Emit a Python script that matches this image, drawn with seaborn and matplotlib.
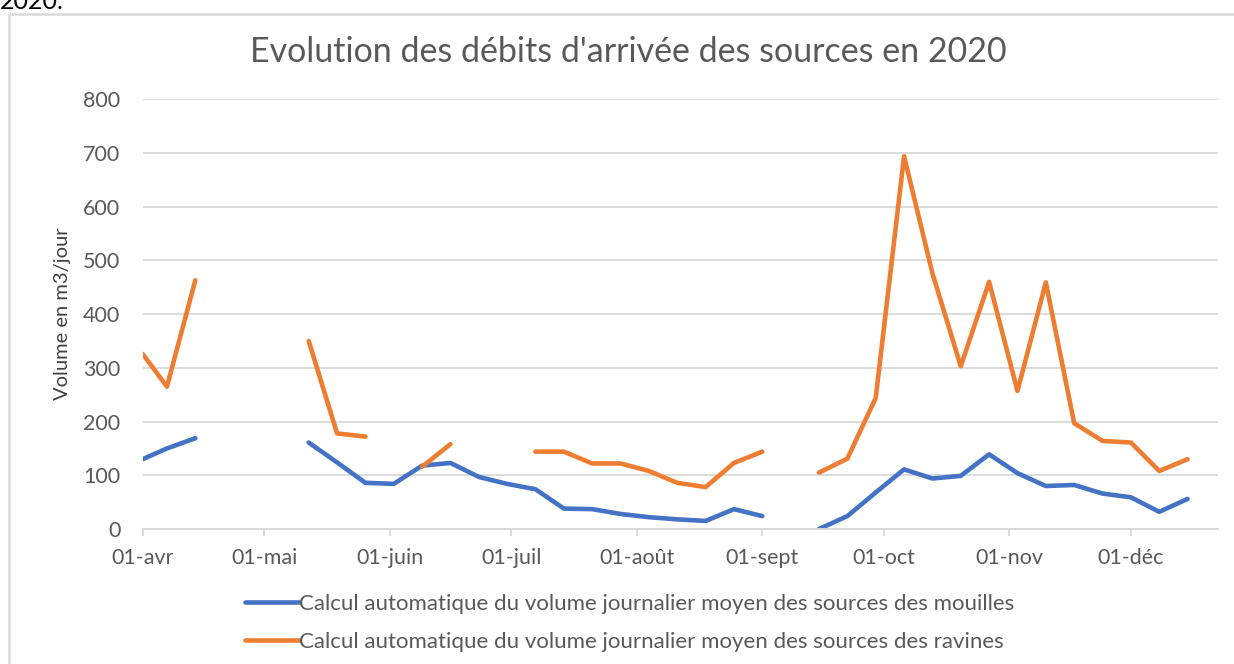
import numpy as np
import pandas as pd
import matplotlib
matplotlib.use("Agg")
import matplotlib.pyplot as plt
import seaborn as sns
from matplotlib.patches import Rectangle

# Weekly measurement dates (2020)
dates = pd.to_datetime([
    "2020-04-01", "2020-04-07", "2020-04-14", "2020-04-21", "2020-04-28",
    "2020-05-05", "2020-05-12", "2020-05-19", "2020-05-26", "2020-06-02",
    "2020-06-09", "2020-06-16", "2020-06-23", "2020-06-30", "2020-07-07",
    "2020-07-14", "2020-07-21", "2020-07-28", "2020-08-04", "2020-08-11",
    "2020-08-18", "2020-08-25", "2020-09-01", "2020-09-08", "2020-09-15",
    "2020-09-22", "2020-09-29", "2020-10-06", "2020-10-13", "2020-10-20",
    "2020-10-27", "2020-11-03", "2020-11-10", "2020-11-17", "2020-11-24",
    "2020-12-01", "2020-12-08", "2020-12-15",
])

nan = np.nan
mouilles = [130, 150, 169, nan, nan, nan, 161, 124, 86, 84,
            118, 123, 97, 84, 74, 38, 37, 28, 22, 18,
            15, 37, 24, nan, 0, 24, 68, 111, 94, 99,
            139, 104, 80, 82, 66, 59, 32, 56]
ravines = [326, 265, 463, nan, nan, nan, 350, 178, 172, nan,
           116, 158, nan, nan, 144, 144, 122, 122, 108, 86,
           78, 123, 144, nan, 105, 131, 244, 694, 476, 303,
           460, 257, 459, 197, 164, 161, 108, 130]

series_names = [
    "Calcul automatique du volume journalier moyen des sources des mouilles",
    "Calcul automatique du volume journalier moyen des sources des ravines",
]
series_colors = ["#4472C4", "#ED7D31"]

month_ticks = pd.to_datetime([
    "2020-04-01", "2020-05-01", "2020-06-01", "2020-07-01", "2020-08-01",
    "2020-09-01", "2020-10-01", "2020-11-01", "2020-12-01",
])
month_labels = ["01-avr", "01-mai", "01-juin", "01-juil", "01-août",
                "01-sept", "01-oct", "01-nov", "01-déc"]
y_ticks = [0, 100, 200, 300, 400, 500, 600, 700, 800]

# Long table; a new segment starts after every missing value so gaps stay open
frames = []
for name, vals in zip(series_names, [mouilles, ravines]):
    v = pd.Series(vals, dtype=float)
    seg = v.isna().cumsum()
    frames.append(pd.DataFrame({"date": dates, "value": v,
                                "serie": name, "segment": seg}))
df = pd.concat(frames, ignore_index=True).dropna(subset=["value"])
df["unit"] = df["serie"] + "_" + df["segment"].astype(str)

sns.set_theme(style="white")
plt.rcParams["font.family"] = ["Lato", "DejaVu Sans"]
text_grey = "#595959"
grid_grey = "#D9D9D9"
fs = 15.5

fig = plt.figure(figsize=(12.34, 6.64), dpi=100)
ax = fig.add_axes([0.1156, 0.2033, 0.8714, 0.6472])

sns.lineplot(data=df, x="date", y="value", hue="serie", units="unit",
             estimator=None, palette=dict(zip(series_names, series_colors)),
             hue_order=series_names, linewidth=3.3, legend=False, ax=ax,
             solid_capstyle="round", solid_joinstyle="round")

ax.set_ylim(0, 800)
ax.set_xlim(pd.Timestamp("2020-04-01"), pd.Timestamp("2020-04-01") + pd.Timedelta(days=265.5))
ax.set_yticks(y_ticks)
ax.set_yticklabels([str(t) for t in y_ticks])
ax.set_xticks(month_ticks)
ax.set_xticklabels(month_labels)

ax.grid(axis="y", color=grid_grey, linewidth=1.3)
ax.grid(axis="x", visible=False)
ax.set_axisbelow(True)
for s in ["top", "right", "left"]:
    ax.spines[s].set_visible(False)
ax.spines["bottom"].set_color(grid_grey)
ax.spines["bottom"].set_linewidth(1.3)

ax.tick_params(axis="y", length=0, pad=16, labelsize=fs, labelcolor=text_grey)
ax.tick_params(axis="x", length=5, width=1.3, color=grid_grey, direction="out",
               pad=9, labelsize=fs, labelcolor=text_grey, bottom=True)

ax.set_xlabel("")
ax.set_ylabel("Volume en m3/jour", fontsize=14.5, color="#404040", labelpad=9)

fig.text(0.509, 0.921, "Evolution des débits d'arrivée des sources en 2020",
         ha="center", va="center", fontsize=24.5, color=text_grey)

handles = [plt.Line2D([], [], color=c, linewidth=3.3) for c in series_colors]
fig.legend(handles, series_names, loc="upper left",
           bbox_to_anchor=(0.1985, 0.1054), frameon=False, fontsize=16,
           handlelength=2.43, handletextpad=0.0, labelspacing=0.8,
           borderaxespad=0, borderpad=0, labelcolor=text_grey)

# Chart frame and the clipped line of text above it
fig.patches.append(Rectangle((9 / 1234, -0.05), 1.2, (664 - 14) / 664 + 0.05,
                             transform=fig.transFigure, fill=False,
                             edgecolor=grid_grey, linewidth=1.8))
fig.text(0.0, 1 - 9 / 664, "2020.", ha="left", va="baseline",
         fontsize=18, color="#000000")

fig.savefig("out.png", dpi=100)
